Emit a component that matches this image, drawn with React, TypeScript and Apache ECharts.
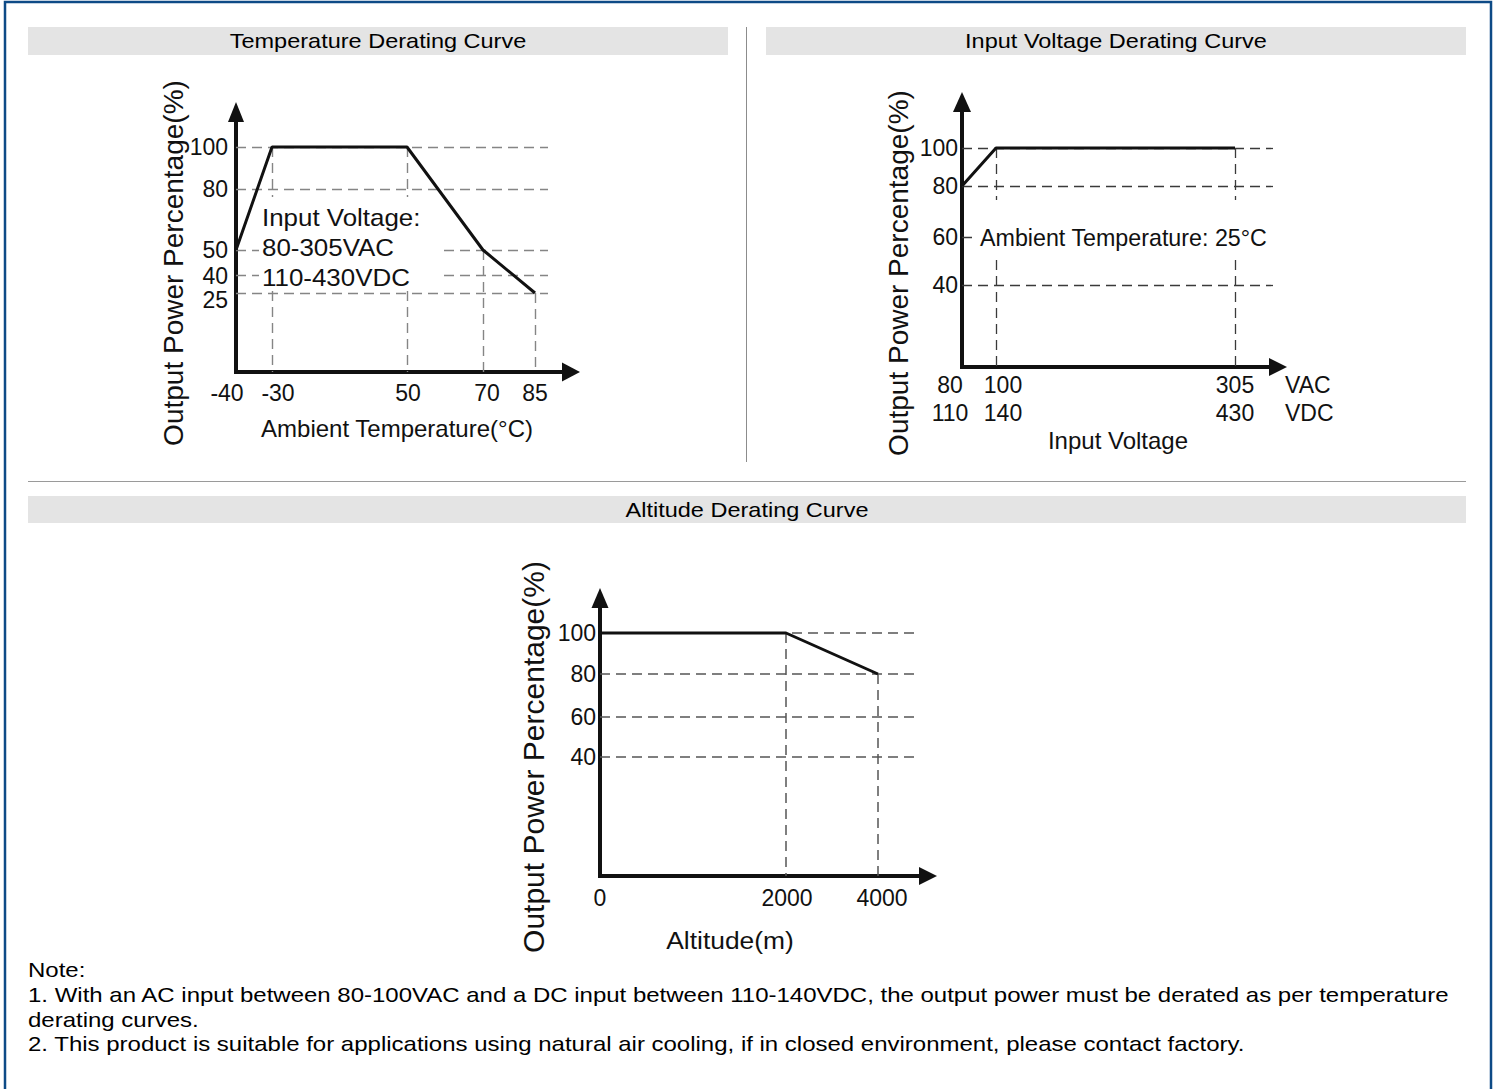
import React, { useEffect, useRef } from 'react';
import * as echarts from 'echarts';

// ---------------- DATA ----------------
// Temperature derating
const tempX = [-40, -30, 50, 70, 85];
const tempXLabels = ['-40', '-30', '50', '70', '85'];
const tempY = [0, 25, 40, 50, 80, 100];
const tempYLabels = ['', '25', '40', '50', '80', '100'];
const tempCurve = [[-40, 50], [-30, 100], [50, 100], [70, 50], [85, 25]];

// Input voltage derating
const voltVAC = [80, 100, 305];
const voltVDC = [110, 140, 430];
const voltY = [0, 40, 60, 80, 100];
const voltYLabels = ['', '40', '60', '80', '100'];
const voltCurve = [[80, 80], [100, 100], [305, 100]]; // x in VAC

// Altitude derating
const altX = [0, 2000, 4000];
const altXLabels = ['0', '2000', '4000'];
const altY = [0, 40, 60, 80, 100];
const altYLabels = ['', '40', '60', '80', '100'];
const altCurve = [[0, 100], [2000, 100], [4000, 80]];

const titles = ['Temperature Derating Curve', 'Input Voltage Derating Curve', 'Altitude Derating Curve'];
const yName = 'Output Power Percentage(%)';
const xNames = ['Ambient Temperature(°C)', 'Input Voltage', 'Altitude(m)'];
const tempNote = ['Input Voltage:', '80-305VAC', '110-430VDC'];
const voltNote = 'Ambient Temperature: 25°C';
const voltUnits = 'VAC\nVDC';
const noteLines = [
  'Note:',
  '1. With an AC input between 80-100VAC and a DC input between 110-140VDC, the output power must be derated as per temperature',
  'derating curves.',
  '2. This product is suitable for applications using natural air cooling, if in closed environment, please contact factory.',
];

// ---------------- LAYOUT / STYLE ----------------
const FONT = "'Liberation Sans', Arial, Helvetica, sans-serif";
const INK = '#111111';

// piecewise display scale: tick values -> pixel offsets along the axis
function warp(v: number, vals: number[], pos: number[]) {
  const n = vals.length;
  for (let i = 0; i < n - 1; i++) {
    if (v <= vals[i + 1] || i === n - 2) {
      const t = (v - vals[i]) / (vals[i + 1] - vals[i]);
      return pos[i] + t * (pos[i + 1] - pos[i]);
    }
  }
  return pos[0];
}

type Spec = {
  grid: { left: number; top: number; width: number; height: number };
  xVals: number[]; xPos: number[]; xLabels: string[]; xShift: number[];
  yVals: number[]; yPos: number[]; yLabels: string[]; yShift: number[];
  curve: number[][]; dashEnd: number;
  xMargin: number; yMargin: number; xLineHeight: number;
  xArrow: number[]; yArrow: number[];
  dashColor: string; dashWidth: number;
};

const specs: Spec[] = [
  {
    grid: { left: 236, top: 112, width: 335, height: 260 },
    xVals: tempX, xPos: [0, 36, 171, 247, 299], xLabels: tempXLabels, xShift: [-9, 6, 1, 4, 0],
    yVals: tempY, yPos: [0, 79, 97, 122, 183, 225], yLabels: tempYLabels, yShift: [0, 7, 1, 0, 0, 0],
    curve: tempCurve, dashEnd: 312,
    xMargin: 9, yMargin: 8, xLineHeight: 23,
    xArrow: [19, 18], yArrow: [16, 20],
    dashColor: '#858585', dashWidth: 1.4,
  },
  {
    grid: { left: 962, top: 102, width: 316, height: 265 },
    xVals: voltVAC, xPos: [0, 34, 273], xLabels: voltVAC.map((v, i) => `${v}\n${voltVDC[i]}`), xShift: [-12, 7, 0],
    yVals: voltY, yPos: [0, 82, 130, 181, 219], yLabels: voltYLabels, yShift: [0, 0, 0, 0, 0],
    curve: voltCurve, dashEnd: 311,
    xMargin: 4, yMargin: 4, xLineHeight: 28,
    xArrow: [18, 18], yArrow: [18, 20],
    dashColor: '#3a3a3a', dashWidth: 1.3,
  },
  {
    grid: { left: 600, top: 598, width: 328, height: 278 },
    xVals: altX, xPos: [0, 186, 278], xLabels: altXLabels, xShift: [0, 1, 4],
    yVals: altY, yPos: [0, 119, 159, 202, 243], yLabels: altYLabels, yShift: [0, 0, 0, 0, 0],
    curve: altCurve, dashEnd: 320,
    xMargin: 10, yMargin: 4, xLineHeight: 23,
    xArrow: [18, 18], yArrow: [17, 20],
    dashColor: '#555555', dashWidth: 1.5,
  },
];

const LABEL_SIZE = 23;

// Tiny label boxes (width 1) so ECharts' min/max overlap check keeps every label;
// padding moves the glyphs to the reference position.
function xRich(shifts: number[], lineHeight: number) {
  const base = { fontSize: LABEL_SIZE, fontFamily: FONT, color: INK, lineHeight, width: 1, align: 'center' };
  const rich: Record<string, any> = { n: { ...base } };
  shifts.forEach((s0) => {
    const s = Math.round(s0);
    if (s < 0) rich['l' + -s] = { ...base, padding: [0, -2 * s, 0, 0] };
    else if (s > 0) rich['r' + s] = { ...base, padding: [0, 0, 0, 2 * s] };
  });
  return rich;
}
function yRich(shifts: number[]) {
  const base = { fontSize: LABEL_SIZE, fontFamily: FONT, color: INK, lineHeight: 12, width: 1, align: 'right' };
  const rich: Record<string, any> = { n: { ...base } };
  shifts.forEach((s0) => {
    const s = Math.round(s0);
    if (s > 0) rich['l' + s] = { ...base, padding: [2 * s, 0, 0, 0] }; // down
    else if (s < 0) rich['r' + -s] = { ...base, padding: [0, 0, -2 * s, 0] }; // up
  });
  return rich;
}

function formatterFor(positions: number[], labels: string[], shifts: number[]) {
  return (val: number) => {
    const idx = positions.findIndex((p) => Math.abs(p - val) < 0.01);
    if (idx < 0) return '';
    const s = Math.round(shifts[idx] || 0);
    const key = s === 0 ? 'n' : s < 0 ? 'l' + -s : 'r' + s;
    return labels[idx].split('\n').map((t) => `{${key}|${t}}`).join('\n');
  };
}
function yFormatterFor(positions: number[], labels: string[], shifts: number[]) {
  return (val: number) => {
    const idx = positions.findIndex((p) => Math.abs(p - val) < 0.01);
    if (idx < 0) return '';
    const s = Math.round(shifts[idx] || 0);
    const key = s === 0 ? 'n' : s > 0 ? 'l' + s : 'r' + -s;
    return `{${key}|${labels[idx]}}`;
  };
}

// order labels so the first/last pair compared by ECharts are well separated
function spreadOrder(vals: number[]) {
  if (vals.length <= 3) return vals.slice();
  return [vals[2], vals[0], vals[1], ...vals.slice(3)];
}

function buildOption() {
  const grids: any[] = [];
  const xAxes: any[] = [];
  const yAxes: any[] = [];
  const series: any[] = [];

  specs.forEach((sp, i) => {
    grids.push({ ...sp.grid, containLabel: false });
    const axisLine = (sym: number[]) => ({
      show: true,
      onZero: true,
      symbol: ['none', 'triangle'],
      symbolSize: sym,
      lineStyle: { color: INK, width: 4, cap: 'square' },
    });
    xAxes.push({
      gridIndex: i, type: 'value', min: 0, max: sp.grid.width,
      axisLine: axisLine(sp.xArrow),
      axisTick: { show: false }, splitLine: { show: false },
      axisLabel: {
        customValues: sp.xPos,
        showMinLabel: true, showMaxLabel: true, hideOverlap: false,
        formatter: formatterFor(sp.xPos, sp.xLabels, sp.xShift),
        margin: sp.xMargin,
        fontSize: LABEL_SIZE, fontFamily: FONT, color: INK, lineHeight: sp.xLineHeight,
        rich: xRich(sp.xShift, sp.xLineHeight),
      },
    });
    const keep = sp.yLabels.map((l) => l !== '');
    const yLabeled = sp.yPos.filter((_, k) => keep[k]);
    const yLabelTexts = sp.yLabels.filter((_, k) => keep[k]);
    const yShifts = sp.yShift.filter((_, k) => keep[k]);
    yAxes.push({
      gridIndex: i, type: 'value', min: 0, max: sp.grid.height,
      axisLine: axisLine(sp.yArrow),
      axisTick: { show: false }, splitLine: { show: false },
      axisLabel: {
        customValues: spreadOrder(yLabeled),
        showMinLabel: true, showMaxLabel: true, hideOverlap: false,
        formatter: yFormatterFor(yLabeled, yLabelTexts, yShifts),
        margin: sp.yMargin,
        fontSize: LABEL_SIZE, fontFamily: FONT, color: INK, lineHeight: 12,
        rich: yRich(yShifts),
      },
    });

    const pts = sp.curve.map(([x, y]) => [warp(x, sp.xVals, sp.xPos), warp(y, sp.yVals, sp.yPos)]);
    const guides: any[] = [];
    sp.yVals.forEach((v) => {
      if (v === sp.yVals[0]) return;
      const yp = warp(v, sp.yVals, sp.yPos);
      guides.push([{ coord: [0, yp] }, { coord: [sp.dashEnd, yp] }]);
    });
    pts.slice(1).forEach(([xp, yp]) => {
      guides.push([{ coord: [xp, yp] }, { coord: [xp, 0] }]);
    });

    series.push({
      type: 'line',
      xAxisIndex: i, yAxisIndex: i,
      data: pts,
      symbol: 'none',
      clip: false,
      z: 5,
      lineStyle: { color: INK, width: 3 },
      emphasis: { disabled: true },
      markLine: {
        silent: true,
        symbol: ['none', 'none'],
        label: { show: false },
        emphasis: { disabled: true },
        lineStyle: { type: [10, 6], color: sp.dashColor, width: sp.dashWidth },
        data: guides,
        z: 1,
      },
    });
  });

  const txt = (text: string, x: number, y: number, size: number, opts: any = {}) => ({
    type: 'text', x, y, z: 20,
    scaleX: opts.scaleX ?? 1,
    rotation: opts.rotation ?? 0,
    silent: true,
    style: {
      text, fill: opts.color ?? INK, fontSize: size, fontFamily: FONT,
      align: opts.align ?? 'center', verticalAlign: 'middle',
      lineHeight: opts.lineHeight,
    },
  });

  const graphic: any[] = [
    // outer frame
    { type: 'polyline', z: 30, silent: true, shape: { points: [[5, 1089], [5, 2], [1491, 2], [1491, 1089]] }, style: { stroke: '#0D4A86', lineWidth: 2.5, fill: 'none' } },
    // header bars
    { type: 'rect', z: 1, silent: true, shape: { x: 28, y: 27, width: 700, height: 28 }, style: { fill: '#E4E4E4' } },
    { type: 'rect', z: 1, silent: true, shape: { x: 766, y: 27, width: 700, height: 28 }, style: { fill: '#E4E4E4' } },
    { type: 'rect', z: 1, silent: true, shape: { x: 28, y: 496, width: 1438, height: 27 }, style: { fill: '#E4E4E4' } },
    txt(titles[0], 378, 41, 21, { scaleX: 1.12, color: '#000' }),
    txt(titles[1], 1116, 41, 21, { scaleX: 1.12, color: '#000' }),
    txt(titles[2], 747, 510, 21, { scaleX: 1.12, color: '#000' }),
    // separators
    { type: 'line', z: 1, silent: true, shape: { x1: 746.5, y1: 27, x2: 746.5, y2: 462 }, style: { stroke: '#8C8C8C', lineWidth: 1 } },
    { type: 'line', z: 1, silent: true, shape: { x1: 28, y1: 481.5, x2: 1466, y2: 481.5 }, style: { stroke: '#9A9A9A', lineWidth: 1 } },
    // masks behind in-plot annotations
    { type: 'rect', z: 15, silent: true, shape: { x: 259, y: 197, width: 181, height: 90 }, style: { fill: '#FFFFFF' } },
    { type: 'rect', z: 15, silent: true, shape: { x: 975, y: 200, width: 302, height: 60 }, style: { fill: '#FFFFFF' } },
    // annotations
    txt(tempNote[0], 262, 217, 24, { align: 'left', scaleX: 1.08 }),
    txt(tempNote[1], 262, 247, 24, { align: 'left', scaleX: 1.08 }),
    txt(tempNote[2], 262, 277, 24, { align: 'left', scaleX: 1.08 }),
    txt(voltNote, 980, 238, 24, { align: 'left', scaleX: 0.97 }),
    txt(voltUnits, 1285, 399, LABEL_SIZE, { align: 'left', lineHeight: 28 }),
    // axis names
    txt(xNames[0], 397, 428, 24),
    txt(xNames[1], 1118, 440, 24),
    txt(xNames[2], 730, 940, 24, { scaleX: 1.1 }),
    txt(yName, 173, 263, 28, { rotation: Math.PI / 2 }),
    txt(yName, 898, 273, 28, { rotation: Math.PI / 2 }),
    txt(yName, 533, 757, 30, { rotation: Math.PI / 2 }),
  ];
  const noteY = [970, 995, 1020, 1044];
  noteLines.forEach((l, k) => graphic.push(txt(l, 28, noteY[k], 20, { align: 'left', scaleX: 1.2, color: '#000' })));

  return {
    animation: false,
    backgroundColor: '#FFFFFF',
    grid: grids,
    xAxis: xAxes,
    yAxis: yAxes,
    series,
    graphic,
  };
}

export default function App() {
  const ref = useRef<HTMLDivElement>(null);
  useEffect(() => {
    document.body.style.margin = '0';
    if (!ref.current) return;
    const chart = echarts.init(ref.current, null, { renderer: 'svg' });
    chart.setOption(buildOption() as any);
    return () => chart.dispose();
  }, []);
  return <div ref={ref} style={{ width: 1499, height: 1089, background: '#fff' }} />;
}
